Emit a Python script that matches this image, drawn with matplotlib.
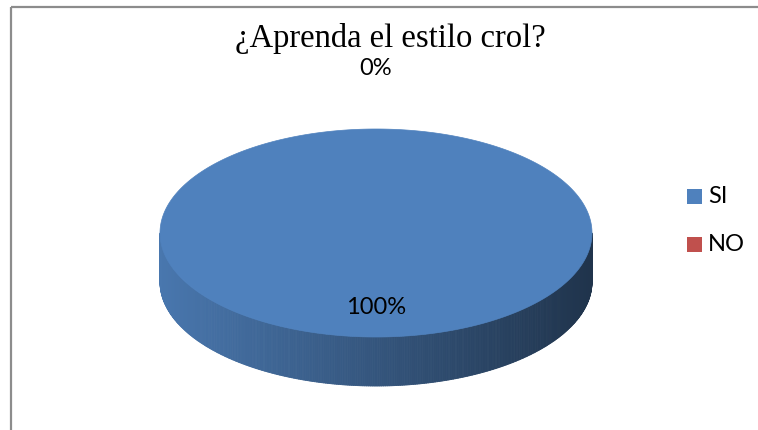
import numpy as np
import matplotlib
matplotlib.use("Agg")
import matplotlib.pyplot as plt
from matplotlib.patches import Polygon, Rectangle
from matplotlib.collections import PolyCollection
from matplotlib.colors import to_rgb

# ---- data ----
title = "¿Aprenda el estilo crol?"
categories = ["SI", "NO"]
values = [100, 0]
colors = ["#4f81bd", "#c0504d"]

# ---- layout (pixels) ----
W, H = 758, 430
cx, cy = 376, 233      # centre of top ellipse
a, b = 216, 104        # semi-axes
depth = 49             # thickness of 3D pie
start = 90.0           # start angle (deg), clockwise

fig = plt.figure(figsize=(W / 100, H / 100), dpi=100)
ax = fig.add_axes([0, 0, 1, 1])
ax.set_xlim(0, W)
ax.set_ylim(H, 0)
ax.axis("off")

# border (top and left visible)
ax.plot([11, 758], [7, 7], color="#8c8c8c", lw=1.6, solid_capstyle="butt")
ax.plot([11, 11], [7, 430], color="#8c8c8c", lw=1.6, solid_capstyle="butt")

total = float(sum(values))
fracs = [v / total for v in values]

def pt(theta_deg, dy=0.0):
    t = np.radians(theta_deg)
    return cx + a * np.cos(t), cy - b * np.sin(t) + dy

# slice angles (clockwise from start)
angles = []
cur = start
for f in fracs:
    a0 = cur
    a1 = cur - 360.0 * f
    angles.append((a0, a1))
    cur = a1

# sides (front-facing part) with horizontal gradient
for (a0, a1), col, f in zip(angles, colors, fracs):
    if f <= 0:
        continue
    base = np.array(to_rgb(col))
    ths = np.linspace(a0, a1, 721)
    polys, fcs = [], []
    for t0, t1 in zip(ths[:-1], ths[1:]):
        tm = 0.5 * (t0 + t1)
        if np.sin(np.radians(tm)) >= 0:
            continue
        x0, y0 = pt(t0)
        x1, y1 = pt(t1)
        polys.append([(x0, y0), (x1, y1), (x1, y1 + depth), (x0, y0 + depth)])
        xm = 0.5 * (x0 + x1)
        k = 0.92 - 0.52 * (xm - (cx - a)) / (2 * a)
        fcs.append(np.clip(base * k, 0, 1))
    pc = PolyCollection(polys, facecolors=fcs, edgecolors=fcs, linewidths=0.6)
    ax.add_collection(pc)

# tops
for (a0, a1), col, f in zip(angles, colors, fracs):
    if f <= 0:
        continue
    ths = np.linspace(a0, a1, 721)
    pts = [pt(t) for t in ths]
    if f < 1:
        pts = [(cx, cy)] + pts
    ax.add_patch(Polygon(pts, closed=True, facecolor=col, edgecolor=col, lw=0.5))

# data labels
lab_font = "Lato"
for (a0, a1), v, f in zip(angles, values, fracs):
    mid = np.radians(0.5 * (a0 + a1))
    txt = f"{round(100 * f)}%"
    r = 0.78 if f > 0.05 else 1.52
    x = cx + r * a * np.cos(mid) * (0.0 if f in (0, 1) else 1)
    y = cy - r * b * np.sin(mid)
    ax.text(x, y, txt, ha="center", va="baseline", fontsize=17,
            family=lab_font, color="black")

# title
ax.text(390, 47, title, ha="center", va="baseline", fontsize=23.5,
        family="Liberation Serif", color="black")

# legend
leg_y = [196, 244]
for yy, cat, col in zip(leg_y, categories, colors):
    ax.add_patch(Rectangle((687, yy - 7.5), 15, 15, facecolor=col, edgecolor="none"))
    ax.text(708, yy + 7, cat, ha="left", va="baseline", fontsize=17,
            family=lab_font, color="black")

fig.savefig("out.png", dpi=100)
